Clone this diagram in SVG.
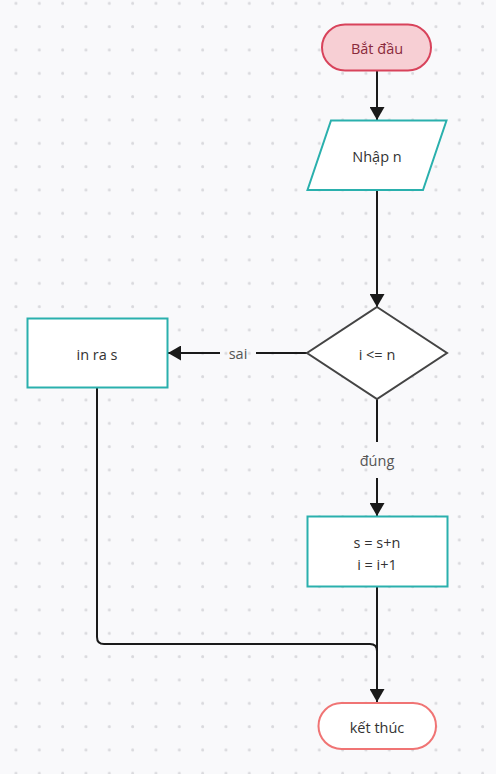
<svg xmlns="http://www.w3.org/2000/svg" width="496" height="774" viewBox="0 0 496 774">
<defs>
<pattern id="dots" x="4.67" y="-8" width="23.333" height="23.333" patternUnits="userSpaceOnUse">
<circle cx="11.33" cy="11.33" r="1.5" fill="#dadade"/>
</pattern>
<marker id="arr" viewBox="0 0 13 15" refX="13" refY="7.5" markerWidth="13" markerHeight="15" markerUnits="userSpaceOnUse" orient="auto">
<path d="M0,0 L13,7.5 L0,15 Z" fill="#1a1a1a"/>
</marker>
<style>
text{font-family:"Open Sans","Noto Sans","Liberation Sans",sans-serif;font-size:14.5px;fill:#333;text-anchor:middle;dominant-baseline:central}
.proc{fill:#fff;stroke:#2ab0ad;stroke-width:2}
.edge{fill:none;stroke:#1a1a1a;stroke-width:2}
.lbl{fill:#555}
</style>
</defs>
<rect width="496" height="774" fill="#f9f9fb"/>
<rect width="496" height="774" fill="url(#dots)"/>
<g id="connectors">
<path class="edge" d="M377,71 V120" marker-end="url(#arr)"/>
<path class="edge" d="M377,190 V307" marker-end="url(#arr)"/>
<path class="edge" d="M307,353 H256 M220,353 H168" marker-end="url(#arr)"/>
<text class="lbl" x="238" y="353">sai</text>
<path class="edge" d="M377,399 V442 M377,478 V516" marker-end="url(#arr)"/>
<text class="lbl" x="377" y="460">đúng</text>
<path class="edge" d="M377,587 V702" marker-end="url(#arr)"/>
<path class="edge" d="M97,388 V637 Q97,644 104,644 H370 Q377,644 377,651"/>
</g>
<g id="start">
<rect x="322" y="24.5" width="109" height="46" rx="23" fill="#f7cfd4" stroke="#d8435b" stroke-width="2"/>
<text x="377" y="48" style="fill:#8a2a3b">Bắt đầu</text>
</g>
<g id="input">
<polygon points="331,120.5 446.5,120.5 423,190 307.5,190" class="proc"/>
<text x="377" y="156">Nhập n</text>
</g>
<g id="cond">
<polygon points="377,307 447,353 377,399 307,353" fill="#fff" stroke="#444" stroke-width="2"/>
<text x="377" y="354">i &lt;= n</text>
</g>
<g id="print">
<rect x="27.5" y="318.5" width="140" height="69" class="proc"/>
<text x="97" y="354">in ra s</text>
</g>
<g id="update">
<rect x="307.5" y="516.5" width="140" height="70" class="proc"/>
<text x="377" y="542">s = s+n</text>
<text x="377" y="564">i = i+1</text>
</g>
<g id="end">
<rect x="318.5" y="703" width="117.5" height="46" rx="23" fill="#fff" stroke="#f07474" stroke-width="2"/>
<text x="377" y="727">kết thúc</text>
</g>
</svg>
